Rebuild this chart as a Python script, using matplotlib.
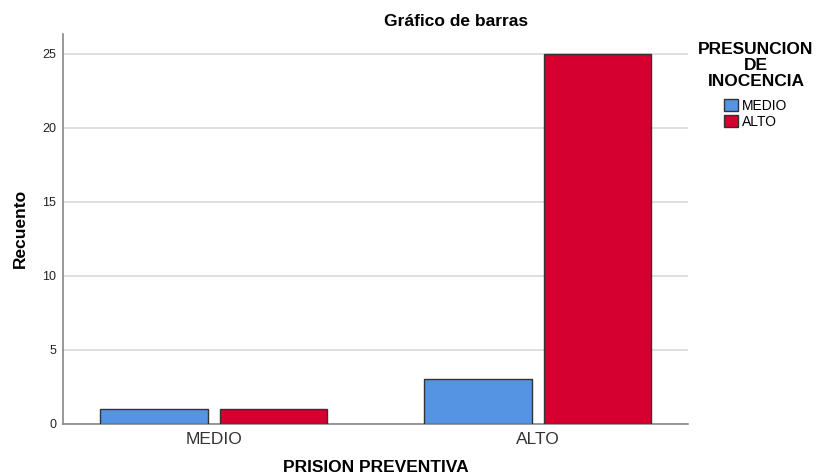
import numpy as np
import matplotlib
matplotlib.use("Agg")
import matplotlib.pyplot as plt
from matplotlib.patches import Patch

plt.rcParams["font.family"] = ["Liberation Sans", "DejaVu Sans"]

# data
categories = ["MEDIO", "ALTO"]
series_names = ["MEDIO", "ALTO"]
medio_counts = [1, 3]
alto_counts = [1, 25]
colors = ["#5594E3", "#D50030"]

fig = plt.figure(figsize=(8.16, 4.76), dpi=100)
ax = fig.add_axes([63 / 816, 1 - 423.7 / 476, 625 / 816, 389.7 / 476])

x = np.arange(len(categories))
width = 0.332
offset = 0.184
ax.bar(x - offset, medio_counts, width, color=colors[0], edgecolor="#333333",
       linewidth=1.0, zorder=3)
ax.bar(x + offset, alto_counts, width, color=colors[1], edgecolor="#333333",
       linewidth=1.0, zorder=3)

ax.set_xlim(-0.4656, 1.4634)
ax.set_ylim(0, 26.33)
ax.set_yticks([0, 5, 10, 15, 20, 25])
ax.set_xticks(x)
ax.set_xticklabels(categories, fontsize=12.5, color="#333333")
ax.tick_params(axis="x", length=0, pad=6)
ax.tick_params(axis="y", length=0, pad=5, labelsize=9, labelcolor="#222222")
ax.yaxis.grid(True, color="#d9d9d9", linewidth=1.2, zorder=0)
ax.set_axisbelow(True)

for s in ["top", "right"]:
    ax.spines[s].set_visible(False)
ax.spines["left"].set_color("#888888")
ax.spines["bottom"].set_color("#888888")
ax.spines["left"].set_linewidth(1.2)
ax.spines["bottom"].set_linewidth(1.2)

ax.set_xlabel("PRISION PREVENTIVA", fontsize=12.5, fontweight="bold", labelpad=9)
ax.set_ylabel("Recuento", fontsize=12.5, fontweight="bold", labelpad=10)
fig.text(456 / 816, 1 - 21 / 476, "Gráfico de barras", fontsize=12.5,
         fontweight="bold", ha="center", va="center")

# legend title drawn on its own so the gap to the entries can be set
fig.text(756 / 816, 1 - 42 / 476, "PRESUNCION\nDE\nINOCENCIA", fontsize=12.5,
         fontweight="bold", ha="center", va="top", multialignment="center",
         linespacing=1.08)
handles = [Patch(facecolor=colors[i], edgecolor="#333333", linewidth=1.0)
           for i in range(2)]
fig.legend(handles, series_names, loc="upper center",
           bbox_to_anchor=(755.5 / 816, 1 - 92 / 476), frameon=False,
           fontsize=10, handlelength=1.0, handleheight=1.0, handletextpad=0.3,
           labelspacing=0.12, borderpad=0)

fig.savefig("out.png", dpi=100)
